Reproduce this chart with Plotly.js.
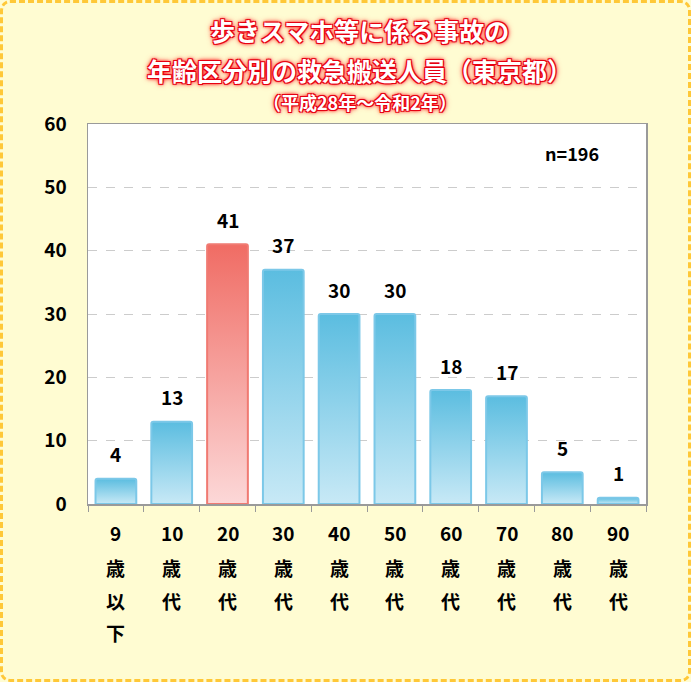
<!DOCTYPE html>
<html>
<head>
<meta charset="utf-8">
<script src="https://cdn.plot.ly/plotly-3.0.1.min.js"></script>
<style>
  html, body { margin: 0; padding: 0; background: #fffcd2; }
  #wrap { position: relative; width: 691px; height: 682px; }
  #chart { position: absolute; left: 0; top: 0; width: 691px; height: 682px; }
  #frame {
    position: absolute; left: 0; top: 0; width: 691px; height: 682px;
    box-sizing: border-box; border: 3px dashed #ffc838; border-radius: 10px;
    pointer-events: none;
  }
</style>
</head>
<body>
<div id="wrap">
  <div id="chart"></div>
  <div id="frame"></div>
</div>
<script>
// data
var ageGroups = ['9歳以下', '10歳代', '20歳代', '30歳代', '40歳代', '50歳代', '60歳代', '70歳代', '80歳代', '90歳代'];
var patients = [4, 13, 41, 37, 30, 30, 18, 17, 5, 1];
var highlightGroup = '20歳代';
var titleLines = ['歩きスマホ等に係る事故の', '年齢区分別の救急搬送人員（東京都）', '（平成28年～令和2年）'];
var sampleNote = 'n=196';

var FONT = '"Noto Sans CJK JP", "Noto Sans", sans-serif';
var glow = '1px 1px 0 #e60012, -1px -1px 0 #e60012, 1px -1px 0 #e60012, -1px 1px 0 #e60012, ' +
           '0 0 3px #ff0000, 0 0 4px #ff1a1a, 0 0 6px #ff4d4d';

var lineColors = ageGroups.map(function (g) { return g === highlightGroup ? '#f07a72' : '#7cc8e8'; });

var bars = {
  type: 'bar',
  x: ageGroups,
  y: patients,
  marker: {
    color: lineColors,
    line: { color: lineColors, width: 2 },
    cornerradius: 2
  },
  hoverinfo: 'skip'
};

var annotations = [];

// title (three lines with a red glow)
var titleShift = [94, 54, 22];
var titleSize = [25, 25, 18];
titleLines.forEach(function (t, i) {
  annotations.push({
    text: t, xref: 'paper', yref: 'paper', x: 0.487, y: 1,
    xanchor: 'center', yanchor: 'middle', yshift: titleShift[i], showarrow: false,
    font: { family: FONT, size: titleSize[i], color: '#ffffff', weight: 700, shadow: glow }
  });
});

annotations.push({
  text: sampleNote, xref: 'paper', yref: 'paper', x: 0.867, y: 1,
  xanchor: 'center', yanchor: 'middle', yshift: -29, showarrow: false,
  font: { family: FONT, size: 18, color: '#000', weight: 700 }
});

// value labels above bars
ageGroups.forEach(function (g, i) {
  annotations.push({
    text: String(patients[i]), x: g, y: patients[i], xref: 'x', yref: 'y',
    yanchor: 'middle', yshift: 25, showarrow: false,
    font: { family: FONT, size: 19, color: '#000', weight: 700 }
  });
});

// category labels, written vertically one line per glyph
ageGroups.forEach(function (g) {
  var parts = g.match(/\d+|./g);
  parts.forEach(function (p, j) {
    annotations.push({
      text: p, x: g, y: 0, xref: 'x', yref: 'y',
      yanchor: 'middle', yshift: -(j === 0 ? 28 : 31 + 32.5 * j), showarrow: false,
      font: { family: FONT, size: 19, color: '#000', weight: 700 }
    });
  });
});

var layout = {
  width: 691,
  height: 682,
  margin: { l: 88, r: 45, t: 124, b: 178 },
  paper_bgcolor: '#fffcd2',
  plot_bgcolor: '#ffffff',
  bargap: 0.27,
  showlegend: false,
  font: { family: FONT, color: '#000' },
  xaxis: {
    type: 'category',
    showline: true, linecolor: '#9a9a9a', linewidth: 1.5, mirror: true,
    ticks: 'outside', tickson: 'boundaries', ticklen: 6, tickcolor: '#9a9a9a',
    showticklabels: false, showgrid: false, fixedrange: true
  },
  yaxis: {
    range: [0, 60], dtick: 10,
    showline: true, linecolor: '#9a9a9a', linewidth: 1.5, mirror: true,
    showgrid: true, gridcolor: '#cccccc', griddash: 'dash', zeroline: false,
    ticks: '', ticklabelstandoff: 16,
    tickfont: { family: FONT, size: 19, color: '#000', weight: 700 },
    fixedrange: true
  },
  annotations: annotations
};

Plotly.newPlot('chart', [bars], layout, { staticPlot: true, displayModeBar: false }).then(function (gd) {
  // vertical gradient fill on each bar, as in the original
  var ns = 'http://www.w3.org/2000/svg';
  var defs = gd.querySelector('svg.main-svg defs');
  function addGrad(id, top, bottom) {
    var lg = document.createElementNS(ns, 'linearGradient');
    lg.setAttribute('id', id);
    lg.setAttribute('x1', '0'); lg.setAttribute('y1', '0');
    lg.setAttribute('x2', '0'); lg.setAttribute('y2', '1');
    [[0, top], [1, bottom]].forEach(function (s) {
      var st = document.createElementNS(ns, 'stop');
      st.setAttribute('offset', s[0]);
      st.setAttribute('stop-color', s[1]);
      lg.appendChild(st);
    });
    defs.appendChild(lg);
  }
  addGrad('gradBlue', '#5bbde0', '#c8e9f6');
  addGrad('gradRed', '#f06c64', '#fcd8d8');
  var paths = gd.querySelectorAll('.barlayer .point path');
  paths.forEach(function (p, i) {
    p.style.fill = ageGroups[i] === highlightGroup ? 'url(#gradRed)' : 'url(#gradBlue)';
  });
});
</script>
</body>
</html>
